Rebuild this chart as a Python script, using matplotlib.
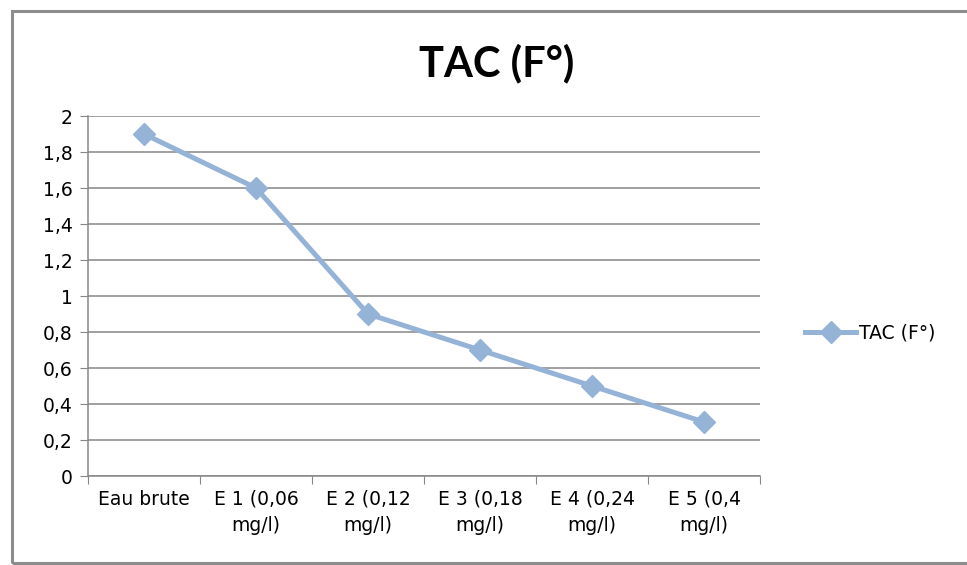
import matplotlib.pyplot as plt
from matplotlib.patches import Rectangle

# Données
categories = ["Eau brute", "E 1 (0,06\nmg/l)", "E 2 (0,12\nmg/l)",
              "E 3 (0,18\nmg/l)", "E 4 (0,24\nmg/l)", "E 5 (0,4\nmg/l)"]
tac = [1.9, 1.6, 0.9, 0.7, 0.5, 0.3]
yticks = [0, 0.2, 0.4, 0.6, 0.8, 1, 1.2, 1.4, 1.6, 1.8, 2]

plt.rcParams['font.family'] = ['DejaVu Sans']

W, H = 967, 565
fig = plt.figure(figsize=(W / 100, H / 100), dpi=100)

# cadre extérieur
fig.patches.append(Rectangle((12 / W, 1 - 563 / H), 1.0, (563 - 11) / H,
                             transform=fig.transFigure, fill=False,
                             edgecolor='#8c8c8c', linewidth=2.2))

ax = fig.add_axes([88 / W, 1 - 476 / H, (760 - 88) / W, (476 - 116) / H])

x = range(len(categories))
ax.plot(x, tac, color='#95b3d7', linewidth=3.6, marker='D', markersize=11,
        label="TAC (F°)")

ax.set_xlim(-0.5, len(categories) - 0.5)
ax.set_ylim(0, 2)
ax.set_yticks(yticks)
ax.set_yticklabels([f"{v:g}".replace('.', ',') for v in yticks], fontsize=13.5)
ax.set_xticks([i - 0.5 for i in range(len(categories) + 1)], minor=False)
ax.set_xticklabels([])
ax.set_xticks(list(x), minor=True)
ax.set_xticklabels(categories, minor=True, fontsize=13.5, linespacing=1.45,
                   va='top')
ax.tick_params(axis='x', which='minor', length=0, pad=10)
ax.tick_params(axis='x', which='major', length=6, color='#868686')
ax.tick_params(axis='y', length=6, color='#868686', pad=5)

ax.grid(axis='y', color='#868686', linewidth=1.1)
ax.set_axisbelow(True)
for s in ['top', 'right']:
    ax.spines[s].set_visible(False)
for s in ['left', 'bottom']:
    ax.spines[s].set_color('#868686')
    ax.spines[s].set_linewidth(1.1)

fig.text(497 / W, 1 - 63 / H, "TAC (F°)", ha='center', va='center',
         fontsize=30, fontweight='bold', family='Lato')

fig.legend(loc='center left', bbox_to_anchor=(796 / W, 1 - 333 / H),
           frameon=False, fontsize=13.5, handlelength=2.7, handletextpad=0.15,
           borderpad=0)

fig.savefig('out.png', dpi=100)
